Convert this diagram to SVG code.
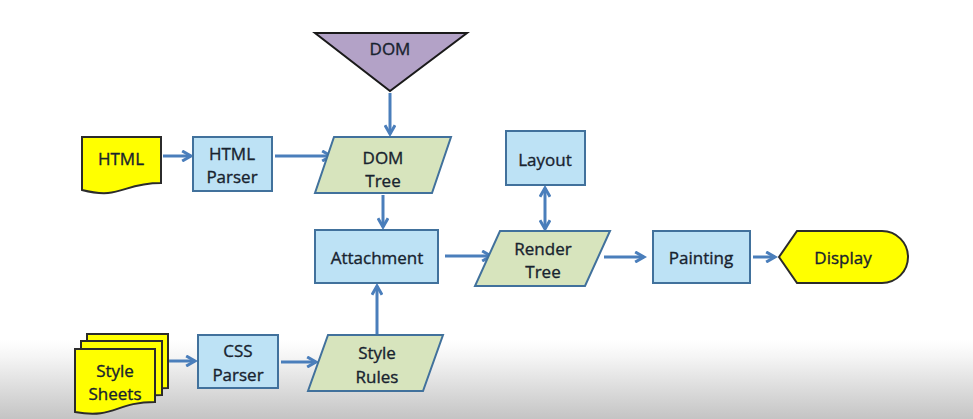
<svg xmlns="http://www.w3.org/2000/svg" width="973" height="419" viewBox="0 0 973 419">
<defs>
<linearGradient id="bg" x1="0" y1="0" x2="0" y2="1">
<stop offset="0" stop-color="#ffffff"/>
<stop offset="0.2" stop-color="#f6f6f6"/>
<stop offset="1" stop-color="#c4c4c4"/>
</linearGradient>
<marker id="ah" viewBox="0 0 10 10" refX="8" refY="5" markerWidth="4.2" markerHeight="4.2" orient="auto-start-reverse" markerUnits="strokeWidth">
<path d="M1,1 L8,5 L1,9" fill="none" stroke="#4a7ebb" stroke-width="2.4" stroke-linejoin="miter"/>
</marker>
<style>
.box{fill:#bde2f5;stroke:#41719c;stroke-width:2}
.para{fill:#d7e4bd;stroke:#41719c;stroke-width:2}
.yel{fill:#ffff00;stroke:#2b2b2b;stroke-width:2}
.tri{fill:#b3a2c7;stroke:#1a1a1a;stroke-width:2}
.t{font-family:"Open Sans","Liberation Sans",sans-serif;font-size:17px;fill:#18232f;stroke:#18232f;stroke-width:0.35;text-anchor:middle;dominant-baseline:central}
.c{fill:none;stroke:#4a7ebb;stroke-width:3;marker-end:url(#ah)}
.d{marker-start:url(#ah)}
</style>
</defs>
<rect x="0" y="0" width="973" height="419" fill="#ffffff"/>
<rect x="0" y="340" width="973" height="79" fill="url(#bg)"/>

<g id="connectors">
<line class="c" x1="163" y1="156" x2="191" y2="156"/>
<line class="c" x1="275" y1="156" x2="331" y2="156"/>
<line class="c" x1="390" y1="93" x2="390" y2="134"/>
<line class="c" x1="383" y1="195" x2="383" y2="227"/>
<line class="c" x1="445" y1="256" x2="491" y2="256"/>
<line class="c d" x1="545" y1="188" x2="545" y2="229"/>
<line class="c" x1="604" y1="257" x2="644" y2="257"/>
<line class="c" x1="753" y1="257" x2="775" y2="257"/>
<line class="c" x1="168" y1="361" x2="195" y2="361"/>
<line class="c" x1="281" y1="362" x2="316" y2="362"/>
<line class="c" x1="377" y1="335" x2="377" y2="286"/>
</g>

<g id="html">
<path class="yel" d="M82,137 H161 V183 C121.5,183 121.5,200 82,190 Z"/>
<text class="t" x="121" y="158">HTML</text>
</g>
<g id="html-parser">
<rect class="box" x="193" y="137" width="79" height="54"/>
<text class="t" x="232" y="153">HTML</text>
<text class="t" x="232" y="176">Parser</text>
</g>
<g id="dom">
<path class="tri" d="M315,33 H467 L390,91 Z"/>
<text class="t" x="390" y="48">DOM</text>
</g>
<g id="dom-tree">
<path class="para" d="M334,137 H451 L432,193 H315 Z"/>
<text class="t" x="383" y="157">DOM</text>
<text class="t" x="383" y="180">Tree</text>
</g>
<g id="attachment">
<rect class="box" x="315" y="230" width="123" height="53"/>
<text class="t" x="377" y="257">Attachment</text>
</g>
<g id="layout">
<rect class="box" x="506" y="131" width="79" height="54"/>
<text class="t" x="545" y="159">Layout</text>
</g>
<g id="render-tree">
<path class="para" d="M500,231 H610 L585,286 H475 Z"/>
<text class="t" x="543" y="248">Render</text>
<text class="t" x="543" y="271">Tree</text>
</g>
<g id="painting">
<rect class="box" x="653" y="231" width="97" height="52"/>
<text class="t" x="701" y="257">Painting</text>
</g>
<g id="display">
<path class="yel" d="M779,257 L797,231 H882 A26,26 0 0 1 882,283 H797 Z"/>
<text class="t" x="843" y="257">Display</text>
</g>
<g id="style-sheets">
<path class="yel" d="M87,334 H168 V388 C127.5,388 127.5,403 87,396 Z"/>
<path class="yel" d="M81,341 H162 V395 C121.5,395 121.5,410 81,403 Z"/>
<path class="yel" d="M75,349 H155 V402 C115,402 115,419 75,412 Z"/>
<text class="t" x="115" y="370">Style</text>
<text class="t" x="115" y="393">Sheets</text>
</g>
<g id="css-parser">
<rect class="box" x="198" y="335" width="80" height="53"/>
<text class="t" x="238" y="350">CSS</text>
<text class="t" x="238" y="374">Parser</text>
</g>
<g id="style-rules">
<path class="para" d="M328,335 H443 L423,391 H308 Z"/>
<text class="t" x="377" y="352">Style</text>
<text class="t" x="377" y="376">Rules</text>
</g>
</svg>
